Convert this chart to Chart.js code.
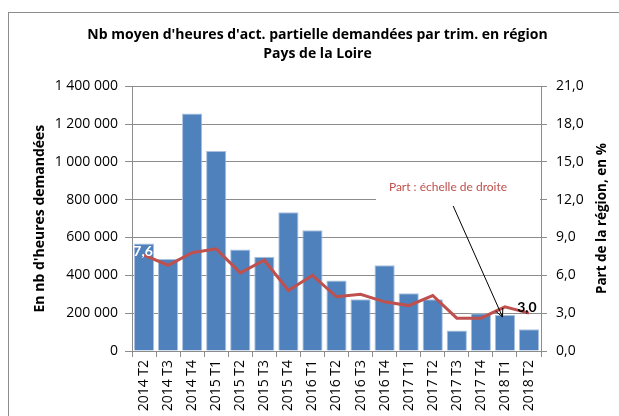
<!DOCTYPE html>
<html>
<head>
<meta charset="utf-8">
<script src="https://cdn.jsdelivr.net/npm/chart.js@4.4.1/dist/chart.umd.min.js"></script>
<style>
  body { margin: 0; background: #fff; }
  #wrap { width: 619px; height: 416px; position: relative; }
</style>
</head>
<body>
<div id="wrap"><canvas id="chart"></canvas></div>
<script>
// quarters
let quarters = ['2014 T2', '2014 T3', '2014 T4', '2015 T1', '2015 T2', '2015 T3', '2015 T4',
    '2016 T1', '2016 T2', '2016 T3', '2016 T4', '2017 T1', '2017 T2', '2017 T3', '2017 T4',
    '2018 T1', '2018 T2'];

// average hours requested (left scale)
let hours = [569000, 486000, 1256000, 1057000, 537000, 498000, 733000, 639000, 373000,
    273000, 453000, 305000, 273000, 109000, 199000, 190000, 115000];

// share of the region, in % (right scale)
let share = [7.6, 6.8, 7.8, 8.1, 6.2, 7.2, 4.8, 6.0, 4.3, 4.5, 3.9, 3.6, 4.4, 2.6, 2.6, 3.5, 3.0];

let leftTicks = [0, 200000, 400000, 600000, 800000, 1000000, 1200000, 1400000];
let rightTicks = [0, 3, 6, 9, 12, 15, 18, 21];

let font = '"Open Sans", Lato, sans-serif';
let lato = 'Lato, "Open Sans", sans-serif';
let gridColor = '#8c8c8c';

function spaced(v) {
    return String(v).replace(/\B(?=(\d{3})+(?!\d))/g, ' ');
}

// border, right axis title, notes and labels
let extras = {
    id: 'extras',
    beforeDraw(chart) {
        let c = chart.ctx;
        c.save();
        c.strokeStyle = '#8c8c8c';
        c.lineWidth = 1;
        c.strokeRect(8.5, 12.5, 700, 500);
        c.restore();
    },
    afterDatasetsDraw(chart) {
        let c = chart.ctx;
        let x = chart.scales.x, yr = chart.scales.y1, area = chart.chartArea;
        c.save();

        // right axis title
        c.font = 'bold 13.5px ' + font;
        c.fillStyle = '#000';
        c.textAlign = 'center';
        c.textBaseline = 'middle';
        c.translate(602, (area.top + area.bottom) / 2);
        c.rotate(-Math.PI / 2);
        c.fillText('Part de la région, en %', 0, 0);
        c.setTransform(1, 0, 0, 1, 0, 0);

        // note box
        let ny = yr.getPixelForValue(13.0);
        c.fillStyle = '#fff';
        c.fillRect(376, ny - 14, area.right - 377, 34);
        c.fillStyle = '#c0504d';
        c.font = '12px ' + lato;
        c.fillText('Part : échelle de droite', 448, ny);

        // arrow
        let x0 = x.getPixelForValue(12.85), y0 = yr.getPixelForValue(11.5);
        let x1 = x.getPixelForValue(14.9), y1 = yr.getPixelForValue(2.7);
        c.strokeStyle = '#000';
        c.lineWidth = 1;
        c.beginPath();
        c.moveTo(x0, y0);
        c.lineTo(x1, y1);
        let a = Math.atan2(y1 - y0, x1 - x0);
        c.moveTo(x1 - 9 * Math.cos(a - 0.45), y1 - 9 * Math.sin(a - 0.45));
        c.lineTo(x1, y1);
        c.lineTo(x1 - 9 * Math.cos(a + 0.45), y1 - 9 * Math.sin(a + 0.45));
        c.stroke();

        // value labels
        c.font = 'bold 14px ' + lato;
        let first = chart.getDatasetMeta(1).data[0];
        c.fillStyle = '#fff';
        c.fillText(String(share[0]).replace('.', ','), first.x - 1, first.y - 4);
        let lastI = share.length - 1;
        let last = chart.getDatasetMeta(1).data[lastI];
        c.fillStyle = '#000';
        c.fillText(share[lastI].toFixed(1).replace('.', ','), last.x - 2, last.y - 6);
        c.restore();
    }
};

let ctx = document.getElementById('chart').getContext('2d');

let chart = new Chart(ctx, {
    data: {
        labels: quarters,
        datasets: [
            {
                type: 'bar',
                data: hours,
                yAxisID: 'y',
                backgroundColor: '#4f81bd',
                borderColor: '#a9c1e0',
                borderWidth: 1,
                barPercentage: 0.84,
                categoryPercentage: 1,
                order: 2
            },
            {
                type: 'line',
                data: share,
                yAxisID: 'y1',
                borderColor: '#c0504d',
                borderWidth: 3,
                pointRadius: 0,
                tension: 0,
                order: 1
            }
        ]
    },
    options: {
        responsive: true,
        maintainAspectRatio: false,
        animation: false,
        layout: { padding: { top: 0, right: 0, bottom: 0, left: 16 } },
        plugins: {
            legend: { display: false },
            tooltip: { enabled: false },
            title: {
                display: true,
                text: ["Nb moyen d'heures d'act. partielle demandées par trim. en région", 'Pays de la Loire'],
                color: '#000',
                font: { family: font, size: 14, weight: 'bold', lineHeight: 1.4 },
                padding: { top: 25, bottom: 22 }
            }
        },
        scales: {
            x: {
                offset: true,
                grid: { offset: true, drawOnChartArea: false, drawTicks: true, tickLength: 6, color: gridColor },
                border: { color: gridColor },
                ticks: {
                    color: '#000',
                    font: { family: font, size: 14 },
                    minRotation: 90,
                    maxRotation: 90,
                    autoSkip: false,
                    padding: 3
                },
                afterFit(s) { s.height = 65; }
            },
            y: {
                position: 'left',
                min: 0,
                max: 1400000,
                afterBuildTicks(s) { s.ticks = leftTicks.map(v => ({ value: v })); },
                grid: { color: gridColor, tickLength: 7 },
                border: { color: gridColor },
                ticks: {
                    color: '#000',
                    font: { family: font, size: 14 },
                    padding: 7,
                    callback: v => spaced(v)
                },
                title: {
                    display: true,
                    text: "En nb d'heures demandées",
                    color: '#000',
                    font: { family: font, size: 14, weight: 'bold' },
                    padding: { top: 16, bottom: 0 }
                },
                afterFit(s) { s.width = 116; }
            },
            y1: {
                position: 'right',
                min: 0,
                max: 21,
                afterBuildTicks(s) { s.ticks = rightTicks.map(v => ({ value: v })); },
                grid: { drawOnChartArea: false, color: gridColor, tickLength: 6 },
                border: { color: gridColor },
                ticks: {
                    color: '#000',
                    font: { family: font, size: 14 },
                    padding: 9,
                    callback: v => v.toFixed(1).replace('.', ',')
                },
                afterFit(s) { s.width = 78; }
            }
        }
    },
    plugins: [extras]
});
</script>
</body>
</html>
